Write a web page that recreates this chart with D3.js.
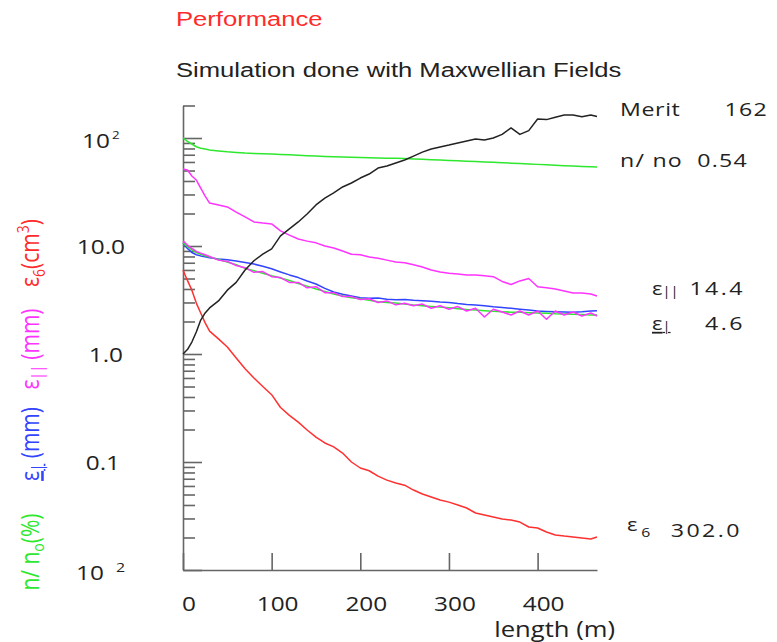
<!DOCTYPE html>
<html>
<head>
<meta charset="utf-8">
<script src="https://cdn.jsdelivr.net/npm/d3@7"></script>
<style>
  body { margin: 0; background: #fff; }
</style>
</head>
<body>
<div id="chart"></div>
<script>
// distance along the channel (m)
const lengthM = [0, 5, 10, 15, 20, 25, 30, 40, 50, 60, 70, 80, 90, 100, 110, 120, 130, 140, 150, 160,
  170, 180, 190, 200, 210, 220, 230, 240, 250, 260, 270, 280, 290, 300, 310, 320, 330, 340, 350, 360,
  370, 380, 390, 400, 410, 420, 430, 440, 450, 460, 467];

const merit = [1.0, 1.1, 1.29, 1.6, 2.06, 2.4, 2.67, 3.1, 3.9, 4.6, 6.0, 7.3, 8.4, 9.4, 12.4, 14.4, 16.7,
  19.8, 24, 27.8, 31, 35.2, 38.3, 42.6, 46.4, 52.7, 55, 58.7, 62.6, 68, 74, 79, 82.6, 86, 90, 94, 98,
  96, 100, 108, 124, 108, 117, 150, 148, 156, 163, 163, 157, 163, 158];

const transmission = [100, 93, 88, 83, 80.5, 79, 77.5, 76, 74.5, 73.5, 72.5, 72, 71.5, 71, 70.4, 69.8, 69.2,
  68.6, 68, 67.6, 67.2, 66.8, 66.4, 66, 65.7, 65.4, 65.1, 64.8, 64.5, 64, 63.5, 63, 62.5, 62, 61.5, 61, 60.5,
  60, 59.5, 59, 58.5, 58, 57.5, 57, 56.5, 56, 55.5, 55, 54.6, 54.2, 54];

const epsLong = [51.6, 50.6, 44.5, 40.8, 34.4, 29, 25, 24, 23, 20.6, 18.6, 16.7, 16.3, 16, 13.8, 12.6, 11.6,
  11.1, 10.7, 10.0, 9.6, 9.0, 8.4, 8.3, 7.9, 7.7, 7.4, 7.1, 7.0, 6.7, 6.4, 6.0, 5.74, 5.6, 5.5, 5.4, 5.4,
  5.3, 5.2, 4.7, 4.4, 4.75, 5.0, 4.2, 4.1, 4.0, 3.83, 3.67, 3.67, 3.59, 3.44];

const epsTrans = [10.7, 9.5, 8.7, 8.3, 8.1, 7.95, 7.8, 7.6, 7.45, 7.25, 7.05, 6.8, 6.5, 6.15, 5.75, 5.4, 5.1,
  4.75, 4.45, 4.05, 3.75, 3.58, 3.45, 3.32, 3.28, 3.3, 3.22, 3.18, 3.2, 3.15, 3.12, 3.08, 3.03, 3.0, 2.93, 2.88, 2.85,
  2.8, 2.74, 2.7, 2.65, 2.6, 2.55, 2.5, 2.48, 2.46, 2.45, 2.44, 2.46, 2.5, 2.52];

const epsTransGreen = [10.7, 9.9, 9.2, 8.7, 8.4, 8.1, 7.9, 7.5, 7.1, 6.7, 6.2, 5.9, 5.6, 5.3, 5.06, 4.8, 4.5,
  4.25, 4.0, 3.8, 3.6, 3.45, 3.32, 3.25, 3.15, 3.05, 3.0, 2.97, 2.9, 2.84, 2.8, 2.76, 2.72, 2.68, 2.63, 2.58, 2.55,
  2.52, 2.49, 2.46, 2.44, 2.43, 2.41, 2.4, 2.38, 2.36, 2.35, 2.33, 2.32, 2.3, 2.3];

const epsTransMagenta = [11.2, 10.2, 9.5, 8.9, 8.6, 8.3, 8.0, 7.4, 7.2, 6.6, 6.3, 5.7, 5.8, 5.2, 5.1, 4.6, 4.6,
  4.1, 4.2, 3.7, 3.7, 3.4, 3.4, 3.2, 3.25, 3.0, 3.1, 2.85, 2.95, 2.8, 2.9, 2.65, 2.8, 2.6, 2.75, 2.5, 2.65,
  2.2, 2.6, 2.45, 2.3, 2.5, 2.3, 2.5, 2.1, 2.5, 2.3, 2.45, 2.25, 2.4, 2.25];

const eps6 = [6.0, 4.8, 3.9, 2.96, 2.4, 1.94, 1.63, 1.38, 1.16, 0.92, 0.73, 0.6, 0.5, 0.42, 0.32, 0.27, 0.234,
  0.198, 0.17, 0.15, 0.138, 0.121, 0.1, 0.088, 0.083, 0.074, 0.068, 0.064, 0.061, 0.055, 0.0505, 0.0474, 0.0445, 0.0425, 0.04, 0.0375, 0.0337,
  0.0323, 0.031, 0.0297, 0.029, 0.0278, 0.025, 0.0245, 0.0225, 0.0211, 0.0206, 0.0202, 0.0198, 0.0194, 0.0202];

const xTicks = [0, 100, 200, 300, 400];
const yMajor = [100, 10, 1, 0.1, 0.01];
const finalValues = ["162", "0.54", "14.4", "4.6", "302.0"];

const W = 777, H = 642;
const K = 1.22; // the original picture is stretched sideways

const svg = d3.select("#chart").append("svg")
  .attr("width", W)
  .attr("height", H)
  .style("font-family", "'Open Sans', sans-serif");

const x = d3.scaleLinear().domain([0, 467]).range([183, 597]);
const y = d3.scaleLog().domain([0.01, 200]).range([570, 105.5]);

// text in a stretched group
function put(px, py, opt = {}) {
  const g = svg.append("g")
    .attr("transform", `translate(${px},${py}) scale(${K},1)` + (opt.rotate ? " rotate(-90)" : ""));
  return g.append("text")
    .attr("text-anchor", opt.anchor || "start")
    .attr("font-size", opt.size || 20)
    .attr("font-family", opt.font || "'Open Sans', sans-serif")
    .attr("fill", opt.fill || "#222");
}

// titles
put(176, 26, { size: 21, font: "'Liberation Sans', Arial", fill: "#ff2b2b" }).text("Performance");
put(176, 77, { size: 21, font: "'Liberation Sans', Arial" }).text("Simulation done with Maxwellian Fields");

// axes
const axisColor = "#666";
const yMinor = y.ticks().filter(v => !yMajor.some(m => Math.abs(m - v) < 1e-9));

svg.append("g")
  .attr("transform", "translate(183,0)")
  .call(d3.axisRight(y).tickValues(yMinor).tickSize(12).tickSizeOuter(0).tickFormat(""))
  .call(g => g.select(".domain").remove());

svg.append("g")
  .attr("transform", "translate(183,0)")
  .call(d3.axisRight(y).tickValues(yMajor).tickSize(19).tickSizeOuter(0).tickFormat(""));

svg.append("g")
  .attr("transform", "translate(0,570)")
  .call(d3.axisBottom(x).tickValues(xTicks).tickSize(-17).tickSizeOuter(0).tickFormat(""));

svg.selectAll(".domain, .tick line")
  .attr("stroke", axisColor)
  .attr("stroke-width", 1.6);

// y tick labels
put(82, y(100) + 10, { size: 20 }).text("10");
put(112, y(100) + 1, { size: 11 }).text("2");
put(125, y(10) + 8, { anchor: "end" }).text("10.0");
put(123, y(1) + 8, { anchor: "end" }).text("1.0");
put(120, y(0.1) + 8, { anchor: "end" }).text("0.1");
put(76, y(0.01) + 10, { size: 20 }).text("10");
put(116, y(0.01) + 2, { size: 13 }).text("2");

// x tick labels
xTicks.forEach(v => {
  put(x(v) + 6, 611, { anchor: "middle" }).text(v);
});
put(615, 637, { anchor: "end", size: 21 }).text("length (m)");

// curves
const series = [
  { values: transmission, color: "#2ee82e" },
  { values: epsLong, color: "#ff33ff" },
  { values: epsTrans, color: "#3344ff" },
  { values: epsTransGreen, color: "#2ee82e" },
  { values: epsTransMagenta, color: "#ff33ff" },
  { values: eps6, color: "#ff3030" },
  { values: merit, color: "#222" }
];

const line = d3.line()
  .x((d, i) => x(lengthM[i]))
  .y(d => y(d));

svg.append("g")
  .selectAll("path")
  .data(series)
  .join("path")
  .attr("fill", "none")
  .attr("stroke", d => d.color)
  .attr("stroke-width", 1.5)
  .attr("stroke-linejoin", "round")
  .attr("d", d => line(d.values));

// rotated axis titles on the left
let t = put(39, 253, { rotate: true, anchor: "middle", size: 21, fill: "#ff2b2b" });
t.append("tspan").text("ε");
t.append("tspan").attr("font-size", 14).attr("dy", 5).text("6");
t.append("tspan").attr("dy", -5).text("(cm");
t.append("tspan").attr("font-size", 14).attr("dy", -8).text("3");
t.append("tspan").attr("dy", 8).text(")");

t = put(39, 349, { rotate: true, anchor: "middle", size: 21, fill: "#ff33ff" });
t.append("tspan").text("ε");
t.append("tspan").attr("font-size", 13).attr("dy", 3).text("||");
t.append("tspan").attr("dy", -3).text(" (mm)");

t = put(39, 444, { rotate: true, anchor: "middle", size: 21, fill: "#3344ff" });
t.append("tspan").attr("text-decoration", "underline").text("ε");
t.append("tspan").attr("text-decoration", "underline").attr("font-size", 13).attr("dy", 3).text("|");
t.append("tspan").attr("dy", -3).text(" (mm)");

t = put(39, 552, { rotate: true, anchor: "middle", size: 21, fill: "#2ee82e" });
t.append("tspan").text("n/ n");
t.append("tspan").attr("font-size", 14).attr("dy", 4).text("o");
t.append("tspan").attr("dy", -4).text("(%)");

// final values on the right
const valSize = 19;
put(620, 115.5, { size: valSize }).attr("letter-spacing", 0.5).text("Merit");
put(768, 115.5, { size: valSize, anchor: "end" }).attr("letter-spacing", 1).text(finalValues[0]);

put(620, 167, { size: valSize }).attr("letter-spacing", 1).text("n/ no");
put(748, 167, { size: valSize, anchor: "end" }).attr("letter-spacing", 1).text(finalValues[1]);

t = put(652, 295, { size: 18 });
t.append("tspan").text("ε");
t.append("tspan").attr("font-size", 12).attr("dy", 1).text("||");
put(745, 295, { size: valSize, anchor: "end" }).attr("letter-spacing", 2).text(finalValues[2]);

t = put(652, 330, { size: 18 });
t.append("tspan").attr("text-decoration", "underline").text("ε");
t.append("tspan").attr("text-decoration", "underline").attr("font-size", 12).attr("dy", 1).text("|");
put(745, 330, { size: valSize, anchor: "end" }).attr("letter-spacing", 2).text(finalValues[3]);

t = put(627, 531, { size: 18 });
t.append("tspan").text("ε");
t.append("tspan").attr("font-size", 13).attr("dx", 3).attr("dy", 6).text("6");
put(742, 537, { size: valSize, anchor: "end" }).attr("letter-spacing", 2).text(finalValues[4]);
</script>
</body>
</html>
